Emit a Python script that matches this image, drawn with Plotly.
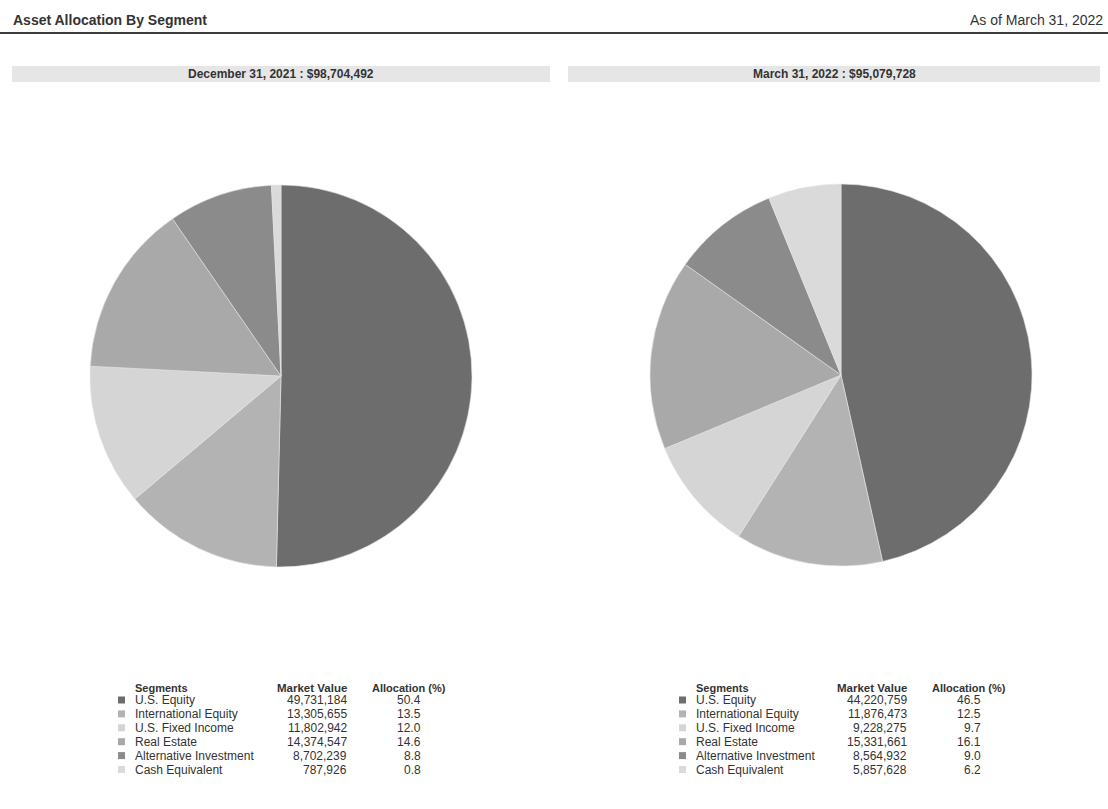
import plotly.graph_objects as go

# Segment data for the two reporting dates
segments = ["U.S. Equity", "International Equity", "U.S. Fixed Income",
            "Real Estate", "Alternative Investment", "Cash Equivalent"]
dec_values = [49731184, 13305655, 11802942, 14374547, 8702239, 787926]
dec_alloc = [50.4, 13.5, 12.0, 14.6, 8.8, 0.8]
mar_values = [44220759, 11876473, 9228275, 15331661, 8564932, 5857628]
mar_alloc = [46.5, 12.5, 9.7, 16.1, 9.0, 6.2]
dec_title = "December 31, 2021 : $98,704,492"
mar_title = "March 31, 2022 : $95,079,728"
seg_colors = ["#6d6d6d", "#b3b3b3", "#d5d5d5", "#a9a9a9", "#8b8b8b", "#dadada"]

W, H = 1108, 809
FONT = "Liberation Sans, Arial, sans-serif"
TXT = "#333333"


def px(x):
    return x / W


def py(y):
    return 1 - y / H


fig = go.Figure()

# Pie charts
R = 191
for values, cx, cy in [(dec_values, 281, 376), (mar_values, 841, 375)]:
    fig.add_trace(go.Pie(
        labels=segments, values=values, sort=False, direction="clockwise",
        rotation=0, textinfo="none", hoverinfo="label+value+percent",
        marker=dict(colors=seg_colors, line=dict(color="#e4e4e4", width=0.6)),
        domain=dict(x=[px(cx - R), px(cx + R)], y=[py(cy + R), py(cy - R)]),
        showlegend=False,
    ))

shapes = []
ann = []

# Header
ann.append(dict(x=px(11), y=py(20), xref="paper", yref="paper", xanchor="left",
                yanchor="middle", showarrow=False,
                text="<b>Asset Allocation By Segment</b>",
                font=dict(family=FONT, size=14, color=TXT)))
ann.append(dict(x=px(1105), y=py(20), xref="paper", yref="paper", xanchor="right",
                yanchor="middle", showarrow=False, text="As of March 31, 2022",
                font=dict(family=FONT, size=14, color=TXT)))
shapes.append(dict(type="line", xref="paper", yref="paper", x0=0, x1=1,
                   y0=py(33), y1=py(33), line=dict(color="#3a3a3a", width=2)))

# Sub-title bars
for x0, x1, title in [(12, 550, dec_title), (568, 1100, mar_title)]:
    shapes.append(dict(type="rect", xref="paper", yref="paper",
                       x0=px(x0), x1=px(x1), y0=py(82), y1=py(66),
                       fillcolor="#e6e6e6", line=dict(width=0), layer="below"))
    ann.append(dict(x=px((x0 + x1) / 2), y=py(74), xref="paper", yref="paper",
                    xanchor="center", yanchor="middle", showarrow=False,
                    text=f"<b>{title}</b>",
                    font=dict(family=FONT, size=12, color=TXT)))

# Tables below pies
row_y0, row_dy = 700, 13.9
tables = [
    dict(sq=118, name=133, mv=349, al=423, values=dec_values, alloc=dec_alloc),
    dict(sq=679, name=694, mv=909, al=983, values=mar_values, alloc=mar_alloc),
]
for t in tables:
    hy = 688
    ann.append(dict(x=px(t["name"]), y=py(hy), xref="paper", yref="paper",
                    xanchor="left", yanchor="middle", showarrow=False,
                    text="<b>Segments</b>",
                    font=dict(family=FONT, size=11, color=TXT)))
    ann.append(dict(x=px(t["mv"]), y=py(hy), xref="paper", yref="paper",
                    xanchor="right", yanchor="middle", showarrow=False,
                    text="<b>Market Value</b>",
                    font=dict(family=FONT, size=11.5, color=TXT)))
    ann.append(dict(x=px(t["al"] - 53), y=py(hy), xref="paper", yref="paper",
                    xanchor="left", yanchor="middle", showarrow=False,
                    text="<b>Allocation (%)</b>",
                    font=dict(family=FONT, size=11, color=TXT)))
    for i, seg in enumerate(segments):
        y = row_y0 + i * row_dy
        shapes.append(dict(type="rect", xref="paper", yref="paper",
                           x0=px(t["sq"]), x1=px(t["sq"] + 7),
                           y0=py(y + 3.5), y1=py(y - 3.5),
                           fillcolor=seg_colors[i], line=dict(width=0)))
        ann.append(dict(x=px(t["name"]), y=py(y), xref="paper", yref="paper",
                        xanchor="left", yanchor="middle", showarrow=False,
                        text=seg, font=dict(family=FONT, size=12, color=TXT)))
        ann.append(dict(x=px(t["mv"]), y=py(y), xref="paper", yref="paper",
                        xanchor="right", yanchor="middle", showarrow=False,
                        text=f"{t['values'][i]:,}",
                        font=dict(family=FONT, size=12, color=TXT)))
        ann.append(dict(x=px(t["al"]), y=py(y), xref="paper", yref="paper",
                        xanchor="right", yanchor="middle", showarrow=False,
                        text=f"{t['alloc'][i]:.1f}",
                        font=dict(family=FONT, size=12, color=TXT)))

fig.update_layout(
    width=W, height=H, margin=dict(l=0, r=0, t=0, b=0),
    paper_bgcolor="white", plot_bgcolor="white",
    shapes=shapes, annotations=ann,
)

fig.write_html("out.html")
